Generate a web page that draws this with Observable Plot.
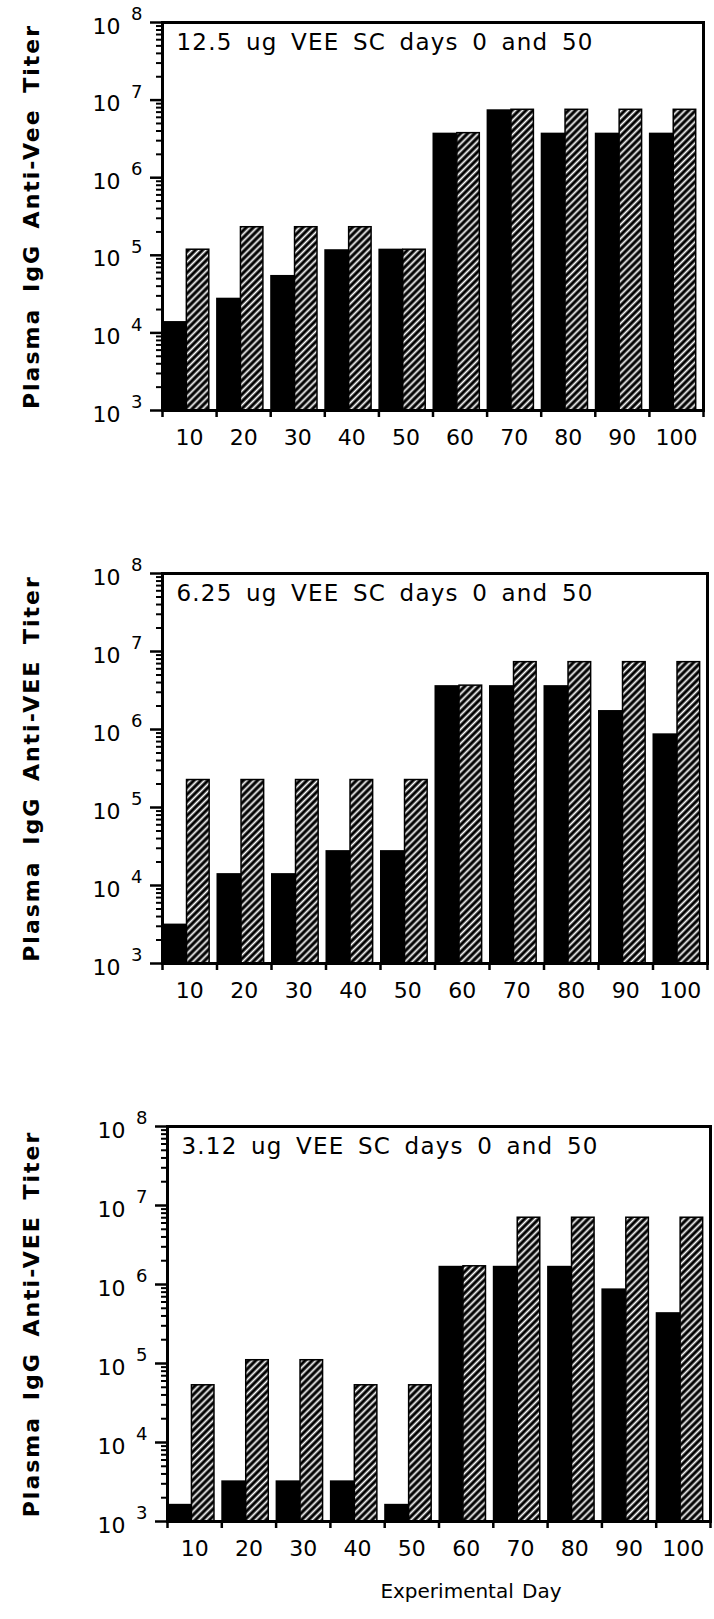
<!DOCTYPE html>
<html><head><meta charset="utf-8">
<script src="https://cdn.jsdelivr.net/npm/d3@7"></script>
<script src="https://cdn.jsdelivr.net/npm/@observablehq/plot@0.6"></script>
<style>
body{margin:0;background:#fff;}
#chart{position:relative;width:714px;height:1619px;background:#fff;overflow:hidden;}
#chart svg{position:absolute;left:0;font-family:"DejaVu Sans",sans-serif;background:none;overflow:visible;}
</style></head><body><div id="chart"></div>
<script>
// ---- data ----
const days = [10, 20, 30, 40, 50, 60, 70, 80, 90, 100];
const panelTitles = ["12.5 ug VEE SC days 0 and 50", "6.25 ug VEE SC days 0 and 50", "3.12 ug VEE SC days 0 and 50"];
const yTitles = ["Plasma IgG Anti-Vee Titer", "Plasma IgG Anti-VEE Titer", "Plasma IgG Anti-VEE Titer"];
const xTitle = "Experimental Day";
const yExponents = [3, 4, 5, 6, 7, 8];
// solid (black) and hatched bars, per dose
const solid125   = [14000, 28000, 55000, 118000, 120000, 3750000, 7500000, 3750000, 3750000, 3750000];
const hatched125 = [118000, 230000, 230000, 230000, 118000, 3750000, 7500000, 7500000, 7500000, 7500000];
const solid625   = [3200, 14200, 14200, 28000, 28000, 3650000, 3650000, 3650000, 1750000, 880000];
const hatched625 = [225000, 225000, 225000, 225000, 225000, 3650000, 7300000, 7300000, 7300000, 7300000];
const solid312   = [1650, 3270, 3270, 3270, 1650, 1700000, 1700000, 1700000, 880000, 440000];
const hatched312 = [53000, 110000, 110000, 53000, 53000, 1700000, 7000000, 7000000, 7000000, 7000000];

const solids = [solid125, solid625, solid312];
const hatcheds = [hatched125, hatched625, hatched312];

// ---- layout per panel ----
const layout = [
  {top: 0,    height: 550, mt: 22, mb: 140, ml: 162, mr: 11},
  {top: 550,  height: 550, mt: 23, mb: 137, ml: 162, mr: 7},
  {top: 1100, height: 519, mt: 26, mb: 98,  ml: 167, mr: 4}
];

const minorTicks = [];
for (const e of yExponents.slice(0, -1)) for (let m = 2; m <= 9; m++) minorTicks.push(m * 10 ** e);
const majorTicks = yExponents.map(e => 10 ** e);
const boundaries = days.map(d => d - 5).concat([days[days.length - 1] + 5]);

const chart = document.getElementById("chart");

layout.forEach((L, i) => {
  const rows = days.map((d, k) => ({day: d, solid: solids[i][k], hatched: hatcheds[i][k]}));
  const marks = [
    Plot.rectY(rows, {x1: d => d.day - 5, x2: d => d.day - 0.5, y1: 1e3, y2: "solid", fill: "black"}),
    Plot.rectY(rows, {x1: d => d.day - 0.5, x2: d => d.day + 3.65, y1: 1e3, y2: "hatched",
      fill: `url(#hatch${i})`, stroke: "black", strokeWidth: 1.5}),
    Plot.frame({stroke: "black", strokeWidth: 3}),
    Plot.axisY({ticks: minorTicks, tickSize: 6, tickFormat: () => "", strokeWidth: 2}),
    Plot.axisY({ticks: majorTicks, tickSize: 12, tickFormat: () => "", strokeWidth: 2.5}),
    Plot.axisX({ticks: boundaries, tickSize: 7, tickFormat: () => "", strokeWidth: 2.5}),
    Plot.text(yExponents, {y: e => 10 ** e, text: () => "10", frameAnchor: "left", dx: -42, dy: 4,
      textAnchor: "end", fontSize: 22, fill: "black"}),
    Plot.text(yExponents, {y: e => 10 ** e, text: e => String(e), frameAnchor: "left", dx: -20, dy: -8,
      textAnchor: "end", fontSize: 18, fill: "black"}),
    Plot.text(days, {x: d => d, frameAnchor: "bottom", dy: 34, text: d => String(d), fontSize: 22, fill: "black"}),
    Plot.text([panelTitles[i]], {frameAnchor: "top-left", dx: 14, dy: 11, lineAnchor: "top", textAnchor: "start",
      fontSize: 23, fill: "black"}),
    Plot.text([yTitles[i]], {frameAnchor: "left", dx: -131 - (L.ml - 162), rotate: -90, textAnchor: "middle",
      lineAnchor: "middle", fontSize: 22, fontWeight: "bold", fill: "black"})
  ];
  if (i === 2) {
    marks.push(Plot.text([xTitle], {frameAnchor: "bottom", dx: 32, dy: 76, fontSize: 20, fill: "black"}));
  }
  const svg = Plot.plot({
    width: 714, height: L.height,
    marginTop: L.mt, marginBottom: L.mb, marginLeft: L.ml, marginRight: L.mr,
    x: {type: "linear", domain: [5, 105], axis: null},
    y: {type: "log", domain: [1e3, 1e8], axis: null},
    style: {background: "none", overflow: "visible"},
    marks
  });
  svg.style.top = L.top + "px";
  const defs = d3.select(svg).insert("defs", ":first-child");
  const pat = defs.append("pattern").attr("id", `hatch${i}`).attr("patternUnits", "userSpaceOnUse")
    .attr("width", 5).attr("height", 5).attr("patternTransform", "rotate(45)");
  pat.append("rect").attr("width", 5).attr("height", 5).attr("fill", "black");
  pat.append("line").attr("x1", 2.5).attr("x2", 2.5).attr("y1", 0).attr("y2", 5)
    .attr("stroke", "white").attr("stroke-width", 1.8);
  // text spacing to mimic the typewriter-like original
  d3.select(svg).selectAll("text").filter(function() { return this.textContent === panelTitles[i]; })
    .style("letter-spacing", "1.2px").style("word-spacing", "5px");
  d3.select(svg).selectAll("text").filter(function() { return this.textContent === yTitles[i]; })
    .style("letter-spacing", "2px").style("word-spacing", "6px");
  d3.select(svg).selectAll("text").filter(function() { return this.textContent === xTitle; })
    .style("letter-spacing", "0px").style("word-spacing", "2px");
  chart.appendChild(svg);
});
</script>
</body></html>
